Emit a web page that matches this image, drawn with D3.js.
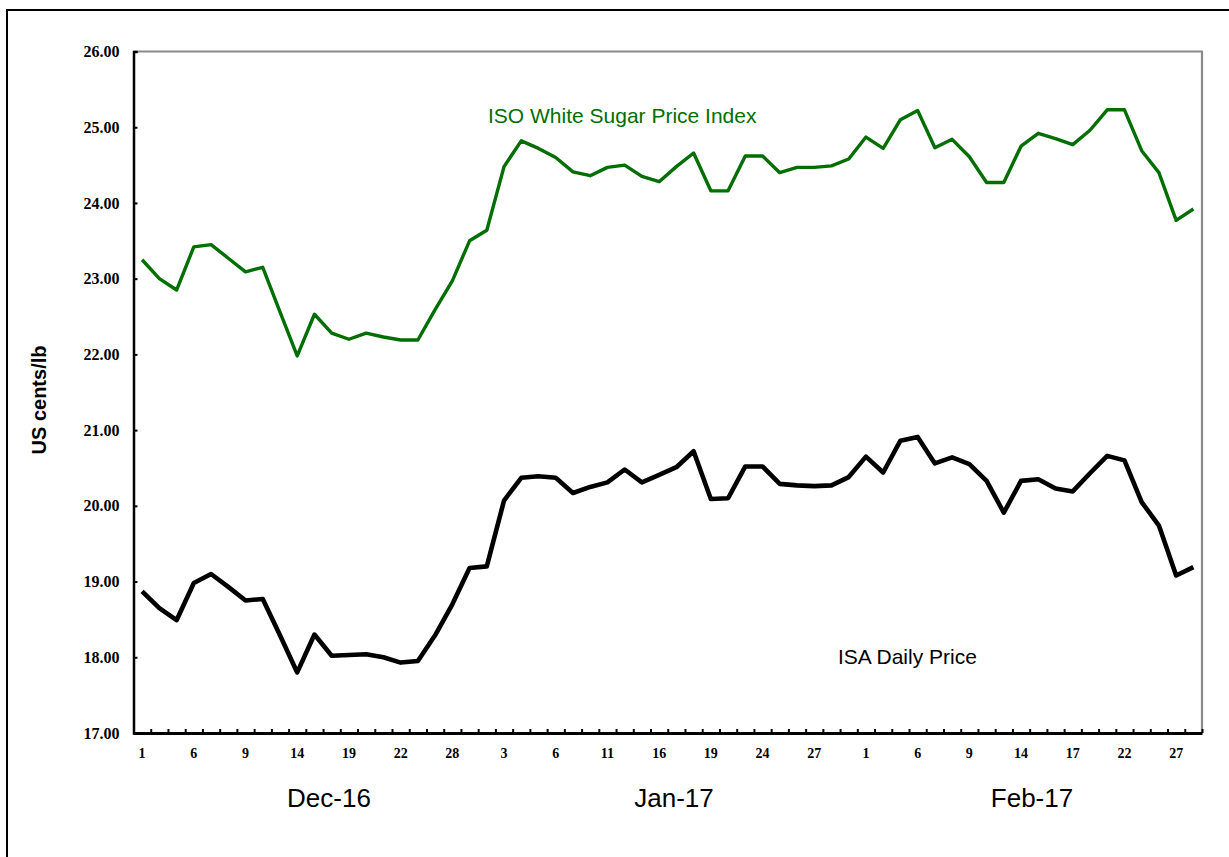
<!DOCTYPE html>
<html>
<head>
<meta charset="utf-8">
<script src="https://cdn.jsdelivr.net/npm/d3@7/dist/d3.min.js"></script>
<style>
  html, body { margin: 0; padding: 0; background: #fff; }
  svg { display: block; }
</style>
</head>
<body>
<svg id="chart" width="1229" height="857"></svg>
<script>
// ---- data ----
const days = ["1","2","5","6","7","8","9","12","13","14","15","16","19","20","21","22","23","27","28","29","30",
  "3","4","5","6","9","10","11","12","13","16","17","18","19","20","23","24","25","26","27","30","31",
  "1","2","3","6","7","8","9","10","13","14","15","16","17","20","21","22","23","24","27","28"];
const months = ["Dec-16","Jan-17","Feb-17"];
const isoIndex = [23.25,23.00,22.85,23.42,23.45,23.27,23.09,23.15,22.56,21.98,22.53,22.28,22.20,22.28,22.23,22.19,22.19,22.59,22.97,23.50,23.64,
  24.48,24.82,24.72,24.60,24.41,24.36,24.47,24.50,24.35,24.28,24.48,24.66,24.16,24.16,24.62,24.62,24.40,24.47,24.47,24.49,24.58,
  24.87,24.72,25.10,25.22,24.73,24.84,24.61,24.27,24.27,24.75,24.92,24.85,24.77,24.96,25.23,25.23,24.69,24.40,23.77,23.92];
const isaDaily = [18.87,18.65,18.49,18.98,19.10,18.93,18.75,18.77,18.29,17.80,18.30,18.02,18.03,18.04,18.00,17.93,17.95,18.29,18.70,19.18,19.20,
  20.07,20.37,20.39,20.37,20.17,20.25,20.31,20.48,20.31,20.41,20.51,20.72,20.09,20.10,20.52,20.52,20.29,20.27,20.26,20.27,20.38,
  20.65,20.44,20.86,20.91,20.56,20.64,20.55,20.33,19.91,20.33,20.35,20.23,20.19,20.43,20.66,20.60,20.05,19.74,19.08,19.19];
const yTicks = [17,18,19,20,21,22,23,24,25,26];
const seriesNames = ["ISO White Sugar Price Index","ISA Daily Price"];

// ---- layout ----
const svg = d3.select("#chart");
const L = 133.5, R = 1202, T = 51.5, B = 733;

svg.append("rect").attr("x",7).attr("y",10).attr("width",1240).attr("height",870)
  .attr("fill","none").attr("stroke","#000").attr("stroke-width",2);

const idx = d3.range(days.length);
const x = d3.scaleBand().domain(idx).range([L, R]).padding(0);
const xEdge = d3.scaleLinear().domain([0, days.length]).range([L, R]);
const y = d3.scaleLinear().domain([17, 26]).range([B, T]);
const cx = i => x(i) + x.bandwidth()/2;

// plot area gray border (top, right)
svg.append("path").attr("d", `M${L},${T}H${R}V${B}`).attr("fill","none")
  .attr("stroke","#8a8a8a").attr("stroke-width",2.2);

// y axis
const yAxis = svg.append("g").attr("transform",`translate(${L},0)`)
  .call(d3.axisLeft(y).tickValues(yTicks).tickFormat(d3.format(".2f")).tickSize(-4).tickPadding(14));
yAxis.select(".domain").attr("stroke","#000").attr("stroke-width",2.5);
yAxis.selectAll(".tick line").attr("stroke","#000").attr("stroke-width",2);
yAxis.selectAll(".tick text").attr("font-family","'Liberation Serif','Times New Roman',serif")
  .attr("font-weight","bold").attr("font-size",16).attr("fill","#000");

// x axis tick marks between categories
const xTickAxis = svg.append("g").attr("transform",`translate(0,${B})`)
  .call(d3.axisBottom(xEdge).tickValues(d3.range(days.length+1)).tickFormat("").tickSize(-4).tickSizeOuter(0));
xTickAxis.select(".domain").attr("stroke","#000").attr("stroke-width",3);
xTickAxis.selectAll(".tick line").attr("stroke","#000").attr("stroke-width",2);

// x labels (every 3rd)
const xLab = svg.append("g").attr("transform",`translate(0,${B})`)
  .call(d3.axisBottom(x).tickValues(idx.filter(i => i % 3 === 0)).tickFormat(i => days[i]).tickSize(0).tickPadding(15));
xLab.select(".domain").remove();
xLab.selectAll(".tick text").attr("font-family","'Liberation Serif','Times New Roman',serif")
  .attr("font-weight","bold").attr("font-size",14).attr("fill","#000");

// month labels
const monthX = [329, 674, 1032];
svg.append("g").selectAll("text").data(months).join("text")
  .attr("x",(d,i)=>monthX[i]).attr("y",807).attr("text-anchor","middle")
  .attr("font-family","'Liberation Sans',Arial,sans-serif").attr("font-size",26).attr("fill","#000")
  .text(d=>d);

// y axis title
svg.append("text").attr("transform","translate(46,400) rotate(-90)").attr("text-anchor","middle")
  .attr("font-family","'Liberation Sans',Arial,sans-serif").attr("font-weight","bold").attr("font-size",20)
  .attr("fill","#000").text("US cents/lb");

// lines
const line = d3.line().x((d,i)=>cx(i)).y(d=>y(d));
svg.append("path").datum(isoIndex).attr("d",line).attr("fill","none")
  .attr("stroke","#006e00").attr("stroke-width",3.4).attr("stroke-linejoin","round");
svg.append("path").datum(isaDaily).attr("d",line).attr("fill","none")
  .attr("stroke","#000").attr("stroke-width",4.6).attr("stroke-linejoin","round");

// series labels
svg.append("text").attr("x",488).attr("y",123).attr("font-family","'Liberation Sans',Arial,sans-serif")
  .attr("font-size",21).attr("fill","#006e00").text(seriesNames[0]);
svg.append("text").attr("x",838).attr("y",664).attr("font-family","'Liberation Sans',Arial,sans-serif")
  .attr("font-size",21).attr("fill","#000").text(seriesNames[1]);
</script>
</body>
</html>
